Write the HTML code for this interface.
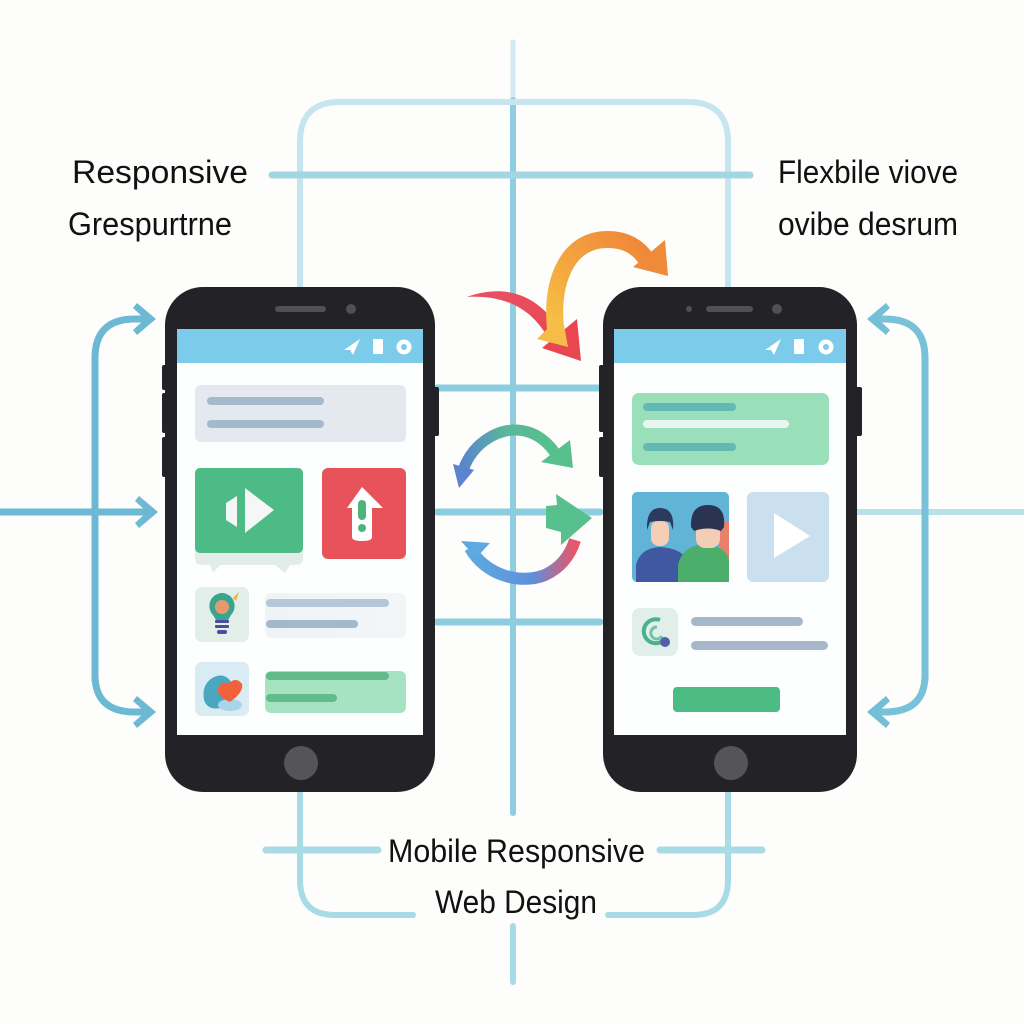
<!DOCTYPE html>
<html><head><meta charset="utf-8"><style>
html,body{margin:0;padding:0;background:#fdfdfb;}
svg{display:block;}
text{font-family:"Liberation Sans",sans-serif;fill:#111;}
</style></head><body>
<svg width="1024" height="1024" viewBox="0 0 1024 1024" xmlns="http://www.w3.org/2000/svg">
<defs>
<linearGradient id="og" x1="0" y1="1" x2="1" y2="0"><stop offset="0" stop-color="#f6c246"/><stop offset="0.5" stop-color="#f3a23f"/><stop offset="1" stop-color="#ee8438"/></linearGradient>
<linearGradient id="gb" x1="0" y1="0" x2="1" y2="0"><stop offset="0" stop-color="#5b84cf"/><stop offset="0.45" stop-color="#5ab79a"/><stop offset="1" stop-color="#56c18c"/></linearGradient>
<linearGradient id="br" x1="0" y1="0" x2="1" y2="0"><stop offset="0" stop-color="#5ea9e2"/><stop offset="0.6" stop-color="#5f8fda"/><stop offset="1" stop-color="#e8566a"/></linearGradient>
<linearGradient id="rd" x1="0" y1="0" x2="1" y2="1"><stop offset="0" stop-color="#ea5068"/><stop offset="1" stop-color="#e8474f"/></linearGradient>
<linearGradient id="fade" x1="0" y1="0" x2="1" y2="0"><stop offset="0" stop-color="#eef3f6"/><stop offset="1" stop-color="#f3f6f8"/></linearGradient>
</defs>

<!-- grid lines -->
<g stroke-linecap="round" fill="none">
<path d="M513,42 V100" stroke="#d2eaf1" stroke-width="5"/>
<path d="M513,100 V290" stroke="#8fcde0" stroke-width="6"/>
<path d="M300,292 V142 Q300,102 340,102 H688 Q728,102 728,142 V292" stroke="#c6e5ee" stroke-width="6"/>
<path d="M272,175 H750" stroke="#a3d6e4" stroke-width="7"/>
<path d="M513,290 V813" stroke="#8fcde0" stroke-width="6"/>
<path d="M437,388 H600" stroke="#8dcde0" stroke-width="7"/>
<path d="M437,512 H600" stroke="#8dcde0" stroke-width="7"/>
<path d="M437,622 H600" stroke="#8dcde0" stroke-width="7"/>
<path d="M300,790 V880 Q300,915 335,915 H413" stroke="#a9dbe7" stroke-width="6"/>
<path d="M608,915 H693 Q728,915 728,880 V790" stroke="#a9dbe7" stroke-width="6"/>
<path d="M266,850 H378" stroke="#a9dbe7" stroke-width="7"/>
<path d="M660,850 H762" stroke="#a9dbe7" stroke-width="7"/>
<path d="M513,926 V982" stroke="#a9dbe7" stroke-width="6"/>
<path d="M857,512 H1024" stroke="#b8e1ec" stroke-width="6"/>
</g>

<!-- left side arrows -->
<g stroke="#6db9d4" stroke-width="7" fill="none" stroke-linecap="round">
<path d="M95,680 V358 Q95,319 135,319 H146"/>
<path d="M95,660 V675 Q95,712 135,712 H146"/>
<path d="M0,512 H146"/>
</g>
<g fill="#6db9d4">
<polygon points="156,319 137,303 133,308 145,319 133,330 137,335"/>
<polygon points="156,712 137,696 133,701 145,712 133,723 137,728"/>
<polygon points="158,512 139,496 135,501 147,512 135,523 139,528"/>
</g>
<!-- right side arrows -->
<g stroke="#79c1d8" stroke-width="7" fill="none" stroke-linecap="round">
<path d="M925,680 V358 Q925,319 885,319 H876"/>
<path d="M925,660 V675 Q925,712 885,712 H876"/>
</g>
<g fill="#74bfd6">
<polygon points="867,319 886,303 890,308 878,319 890,330 886,335"/>
<polygon points="867,712 886,696 890,701 878,712 890,723 886,728"/>
</g>

<!-- text -->
<text x="72" y="183" font-size="32" textLength="176" lengthAdjust="spacingAndGlyphs">Responsive</text>
<text x="68" y="235" font-size="32" textLength="164" lengthAdjust="spacingAndGlyphs">Grespurtrne</text>
<text x="778" y="183" font-size="32" textLength="180" lengthAdjust="spacingAndGlyphs">Flexbile viove</text>
<text x="778" y="235" font-size="32" textLength="180" lengthAdjust="spacingAndGlyphs">ovibe desrum</text>
<text x="388" y="862" font-size="32" textLength="257" lengthAdjust="spacingAndGlyphs">Mobile Responsive</text>
<text x="435" y="913" font-size="32" textLength="162" lengthAdjust="spacingAndGlyphs">Web Design</text>

<!-- LEFT PHONE -->
<g>
<rect x="162" y="365" width="6" height="25" rx="2" fill="#232226"/>
<rect x="162" y="393" width="6" height="40" rx="2" fill="#232226"/>
<rect x="162" y="437" width="6" height="40" rx="2" fill="#232226"/>
<rect x="432" y="387" width="7" height="49" rx="2" fill="#232226"/>
<rect x="165" y="287" width="270" height="505" rx="38" fill="#232226"/>
<rect x="177" y="329" width="246" height="406" fill="#fdfefe"/>
<rect x="177" y="329" width="246" height="34" fill="#7ccbea"/>
<rect x="275" y="306" width="51" height="6" rx="3" fill="#4f4f54"/>
<circle cx="351" cy="309" r="5" fill="#4f4f54"/>
<circle cx="301" cy="763" r="17" fill="#555457"/>
<polygon points="344,350 360,339 353,355 350,350" fill="#fff"/>
<rect x="373" y="339" width="10" height="15" rx="1" fill="#fff"/>
<circle cx="404" cy="347" r="7.5" fill="#fff"/><circle cx="404" cy="347" r="3" fill="#7ccbea"/>

<rect x="195" y="385" width="211" height="57" rx="6" fill="#e4e9f0"/>
<rect x="207" y="397" width="117" height="8" rx="4" fill="#a4b9cc"/>
<rect x="207" y="420" width="117" height="8" rx="4" fill="#a4b9cc"/>

<path d="M195,548 H303 V558 Q303,565 296,565 H290 L285,573 L275,565 H220 L213,573 L210,565 H202 Q195,565 195,558 Z" fill="#e4ece9"/>
<rect x="195" y="468" width="108" height="85" rx="5" fill="#4dbb86"/>
<polygon points="226,503 237,496 237,527 226,520" fill="#f4f7f5"/>
<polygon points="245,488 274,510 245,533" fill="#f4f7f5"/>

<rect x="322" y="468" width="84" height="91" rx="6" fill="#e8535b"/>
<path d="M362,487 L383,508 L372,508 L372,537 Q372,541 362,541 Q352,541 352,537 L352,508 L347,508 Z" fill="#fff"/>
<rect x="358" y="500" width="8" height="20" rx="4" fill="#4db47a"/>
<circle cx="362" cy="528" r="4" fill="#4db47a"/>

<rect x="195" y="587" width="54" height="55" rx="7" fill="#e2eee8"/>
<rect x="265" y="593" width="141" height="45" rx="6" fill="url(#fade)"/>
<rect x="266" y="599" width="123" height="8" rx="4" fill="#b3c7d8"/>
<rect x="266" y="620" width="92" height="8" rx="4" fill="#a4b8cc"/>
<path d="M222,593 a13,13 0 0 1 9,22 l-3,5 h-12 l-3,-5 a13,13 0 0 1 9,-22 z" fill="#3aa58e"/>
<circle cx="222" cy="607" r="7" fill="#e49a6d"/>
<rect x="215" y="620" width="14" height="3" rx="1" fill="#4b4f99"/>
<rect x="215" y="625" width="14" height="3" rx="1" fill="#4b4f99"/>
<rect x="217" y="630" width="10" height="4" rx="2" fill="#4b4f99"/>
<polygon points="233,598 239,592 236,601" fill="#f0b040"/>

<rect x="195" y="662" width="54" height="54" rx="7" fill="#d9ebf3"/>
<path d="M214,677 Q226,672 232,684 Q238,700 224,707 Q208,712 204,700 Q201,684 214,677 Z" fill="#4aa7bf"/>
<ellipse cx="230" cy="705" rx="12" ry="6" fill="#a8d6e8"/>
<path d="M228,684 Q236,676 242,684 Q244,692 230,702 Q216,696 218,688 Q222,680 228,684 Z" fill="#f2623a"/>

<rect x="265" y="671" width="141" height="42" rx="6" fill="#a6e3c3"/>
<rect x="266" y="672" width="123" height="8" rx="4" fill="#63bb8b"/>
<rect x="266" y="694" width="71" height="8" rx="4" fill="#63bb8b"/>
</g>

<!-- RIGHT PHONE -->
<g>
<rect x="599" y="365" width="6" height="67" rx="2" fill="#232226"/>
<rect x="599" y="437" width="6" height="40" rx="2" fill="#232226"/>
<rect x="855" y="387" width="7" height="49" rx="2" fill="#232226"/>
<rect x="603" y="287" width="254" height="505" rx="38" fill="#232226"/>
<rect x="614" y="329" width="232" height="406" fill="#fdfefe"/>
<rect x="614" y="329" width="232" height="34" fill="#7ccbea"/>
<rect x="706" y="306" width="47" height="6" rx="3" fill="#4f4f54"/>
<circle cx="689" cy="309" r="3" fill="#4f4f54"/>
<circle cx="777" cy="309" r="5" fill="#4f4f54"/>
<circle cx="731" cy="763" r="17" fill="#555457"/>
<polygon points="765,350 781,339 774,355 771,350" fill="#fff"/>
<rect x="794" y="339" width="10" height="15" rx="1" fill="#fff"/>
<circle cx="826" cy="347" r="7.5" fill="#fff"/><circle cx="826" cy="347" r="3" fill="#7ccbea"/>

<rect x="632" y="393" width="197" height="72" rx="7" fill="#98dfba"/>
<rect x="643" y="403" width="93" height="8" rx="4" fill="#65b9b4"/>
<rect x="643" y="420" width="146" height="8" rx="4" fill="#e9f6ef"/>
<rect x="643" y="443" width="93" height="8" rx="4" fill="#65b9b4"/>

<rect x="632" y="492" width="97" height="90" rx="5" fill="#62b4d7"/>
<path d="M720,522 H729 V560 H720 Z" fill="#e9806a"/>
<path d="M636,582 V565 Q640,548 660,547 Q680,548 688,560 V582 Z" fill="#3f58a0"/>
<rect x="651" y="520" width="18" height="26" rx="8" fill="#f4cfb6"/>
<path d="M647,530 Q646,508 660,508 Q675,508 673,530 L670,522 Q660,520 650,522 Z" fill="#2c3a5d"/>
<path d="M678,582 V565 Q682,546 704,544 Q726,546 729,560 V582 Z" fill="#4bae6a"/>
<rect x="696" y="518" width="24" height="30" rx="9" fill="#f3cdb5"/>
<path d="M691,527 Q690,505 708,505 Q726,505 724,527 L721,531 Q708,526 694,531 Z" fill="#2b3352"/>

<rect x="747" y="492" width="82" height="90" rx="6" fill="#cbe0ef"/>
<polygon points="774,513 810,536 774,558" fill="#fff"/>

<rect x="632" y="608" width="46" height="48" rx="8" fill="#e0efe9"/>
<path d="M660,620 A12,12 0 1 0 664,640" fill="none" stroke="#4cb08c" stroke-width="4"/>
<path d="M657,627 A6,6 0 1 0 662,636" fill="none" stroke="#72c2a9" stroke-width="3"/>
<circle cx="665" cy="642" r="5" fill="#5360a8"/>
<rect x="691" y="617" width="112" height="9" rx="4.5" fill="#a6b7ca"/>
<rect x="691" y="641" width="137" height="9" rx="4.5" fill="#a6b7ca"/>

<rect x="673" y="687" width="107" height="25" rx="4" fill="#4dbb84"/>
</g>

<!-- center curved arrows -->
<!-- red -->
<path d="M467,297 C500,285 535,290 560,330 L548,338 C530,305 500,295 467,297 Z" fill="url(#rd)"/>
<!-- orange -->
<path d="M556,333 C550,285 565,245 600,240 C625,237 640,248 648,262" fill="none" stroke="url(#og)" stroke-width="17"/>
<polygon points="633,267 668,276 665,240" fill="#ee8a3a"/>
<polygon points="542,348 581,361 577,319" fill="#e8474f"/>
<polygon points="537,339 568,347 562,314" fill="#f5bd48"/>
<!-- upper green-blue arc -->
<path d="M462,474 C470,445 495,430 515,430 C535,430 550,443 558,458" fill="none" stroke="url(#gb)" stroke-width="11"/>
<polygon points="541,462 573,468 570,440" fill="#58c08c"/>
<polygon points="453,464 474,470 459,488" fill="#5b84cf"/>
<!-- lower blue-red arc -->
<path d="M470,548 C485,575 520,585 545,575 C560,568 570,556 575,540" fill="none" stroke="url(#br)" stroke-width="12"/>
<polygon points="461,541 490,543 476,558" fill="#5ea9e2"/>
<polygon points="556,494 592,518 561,545 561,532 546,528 546,506 557,505" fill="#57c08d"/>
</svg>
</body></html>
